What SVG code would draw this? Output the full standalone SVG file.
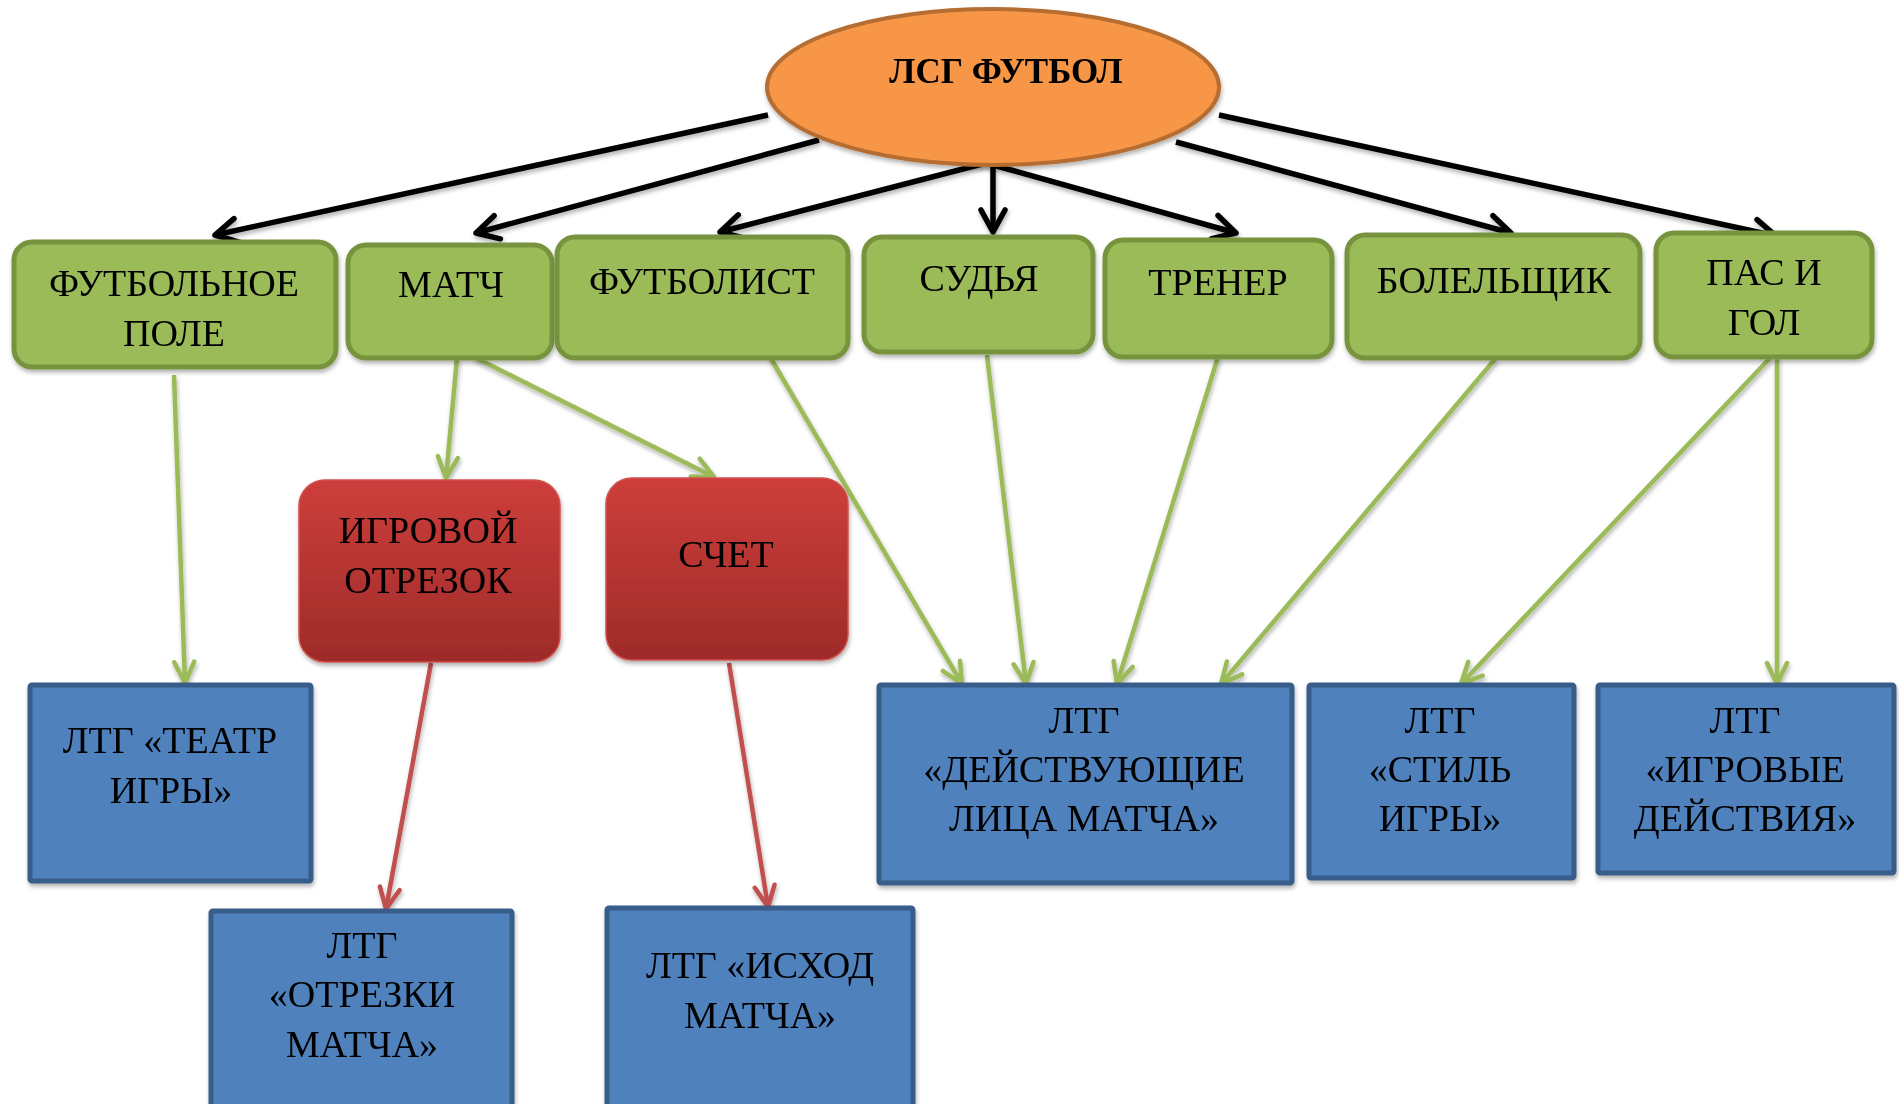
<svg xmlns="http://www.w3.org/2000/svg" width="1899" height="1104" viewBox="0 0 1899 1104">
<style>
  text { font-family: "Liberation Serif", "Times New Roman", serif; font-size: 38px; fill: #000; text-anchor: middle; }
  .title { font-weight: bold; font-size: 35px; }
  .green { fill: #9bbb59; stroke: #77933c; stroke-width: 5; }
  .red { fill: url(#redGrad); stroke: #d0514e; stroke-width: 1.5; }
  .blue { fill: #4f81bd; stroke: #385d8a; stroke-width: 5; }
  .ell { fill: #f79646; stroke: #b66d31; stroke-width: 4; }
  .cb { stroke: #000; stroke-width: 5.5; fill: none; marker-end: url(#ab); }
  .cg { stroke: #9bbb59; stroke-width: 4.5; fill: none; marker-end: url(#ag); }
  .cr { stroke: #c0504d; stroke-width: 4.5; fill: none; marker-end: url(#ar); }
</style>
<defs>
  <linearGradient id="redGrad" x1="0" y1="0" x2="0" y2="1">
    <stop offset="0" stop-color="#cd3e3b"/>
    <stop offset="1" stop-color="#9e2b29"/>
  </linearGradient>
  <filter id="sh" x="-10%" y="-10%" width="120%" height="130%">
    <feDropShadow dx="1" dy="3" stdDeviation="2" flood-color="#000" flood-opacity="0.3"/>
  </filter>
  <marker id="ab" markerUnits="userSpaceOnUse" viewBox="-28 -17 32 34" refX="0" refY="0" markerWidth="32" markerHeight="34" orient="auto">
    <path d="M-22,-12 L0,0 L-22,12" fill="none" stroke="#000" stroke-width="5.5" stroke-linecap="round" stroke-linejoin="round"/>
  </marker>
  <marker id="ag" markerUnits="userSpaceOnUse" viewBox="-26 -16 30 32" refX="0" refY="0" markerWidth="30" markerHeight="32" orient="auto">
    <path d="M-21,-10 L0,0 L-21,10" fill="none" stroke="#9bbb59" stroke-width="4.5" stroke-linecap="round" stroke-linejoin="round"/>
  </marker>
  <marker id="ar" markerUnits="userSpaceOnUse" viewBox="-26 -16 30 32" refX="0" refY="0" markerWidth="30" markerHeight="32" orient="auto">
    <path d="M-21,-10 L0,0 L-21,10" fill="none" stroke="#c0504d" stroke-width="4.5" stroke-linecap="round" stroke-linejoin="round"/>
  </marker>
</defs>
<rect width="1899" height="1104" fill="#fff"/>

<g id="connectors" filter="url(#sh)">
  <line class="cb" x1="768" y1="115" x2="215" y2="235"/>
  <line class="cb" x1="819" y1="140" x2="476" y2="233"/>
  <line class="cb" x1="986" y1="163" x2="720" y2="232"/>
  <line class="cb" x1="993" y1="165" x2="993" y2="232"/>
  <line class="cb" x1="986" y1="163" x2="1236" y2="233"/>
  <line class="cb" x1="1176" y1="142" x2="1511" y2="233"/>
  <line class="cb" x1="1219" y1="115" x2="1776" y2="236"/>

  <line class="cg" x1="174" y1="375" x2="185" y2="683"/>
  <line class="cg" x1="457" y1="358" x2="446" y2="478"/>
  <line class="cg" x1="474" y1="357" x2="714" y2="477"/>
  <line class="cg" x1="770" y1="357" x2="962" y2="684"/>
  <line class="cg" x1="987" y1="355" x2="1026" y2="684"/>
  <line class="cg" x1="1218" y1="357" x2="1117" y2="684"/>
  <line class="cg" x1="1496" y1="358" x2="1221" y2="684"/>
  <line class="cg" x1="1771" y1="357" x2="1461" y2="684"/>
  <line class="cg" x1="1777" y1="357" x2="1777" y2="684"/>

  <line class="cr" x1="431" y1="663" x2="386" y2="909"/>
  <line class="cr" x1="729" y1="663" x2="768" y2="907"/>
</g>

<g id="root" filter="url(#sh)">
  <ellipse class="ell" cx="993" cy="87" rx="226" ry="78"/>
  <text class="title" x="1006" y="83">ЛСГ ФУТБОЛ</text>
</g>

<g id="n-pole" filter="url(#sh)">
  <rect class="green" x="14" y="242" width="322" height="125" rx="18"/>
  <text x="174" y="296">ФУТБОЛЬНОЕ</text>
  <text x="174" y="346">ПОЛЕ</text>
</g>
<g id="n-match" filter="url(#sh)">
  <rect class="green" x="348" y="245" width="204" height="113" rx="18"/>
  <text x="451" y="297">МАТЧ</text>
</g>
<g id="n-player" filter="url(#sh)">
  <rect class="green" x="557" y="237" width="291" height="121" rx="18"/>
  <text x="702" y="294">ФУТБОЛИСТ</text>
</g>
<g id="n-referee" filter="url(#sh)">
  <rect class="green" x="864" y="237" width="229" height="115" rx="18"/>
  <text x="979" y="291">СУДЬЯ</text>
</g>
<g id="n-coach" filter="url(#sh)">
  <rect class="green" x="1105" y="240" width="227" height="117" rx="18"/>
  <text x="1218" y="295">ТРЕНЕР</text>
</g>
<g id="n-fan" filter="url(#sh)">
  <rect class="green" x="1347" y="235" width="293" height="123" rx="18"/>
  <text x="1494" y="293">БОЛЕЛЬЩИК</text>
</g>
<g id="n-pass" filter="url(#sh)">
  <rect class="green" x="1656" y="233" width="216" height="124" rx="18"/>
  <text x="1764" y="285">ПАС И</text>
  <text x="1764" y="335">ГОЛ</text>
</g>

<g id="n-segment" filter="url(#sh)">
  <rect class="red" x="299" y="480" width="261" height="182" rx="26"/>
  <text x="428" y="543">ИГРОВОЙ</text>
  <text x="428" y="593">ОТРЕЗОК</text>
</g>
<g id="n-score" filter="url(#sh)">
  <rect class="red" x="606" y="478" width="242" height="182" rx="26"/>
  <text x="726" y="567">СЧЕТ</text>
</g>

<g id="b-theatre" filter="url(#sh)">
  <rect class="blue" x="30" y="685" width="281" height="196" rx="2"/>
  <text x="170" y="753">ЛТГ «ТЕАТР</text>
  <text x="171" y="803">ИГРЫ»</text>
</g>
<g id="b-segments" filter="url(#sh)">
  <rect class="blue" x="211" y="911" width="301" height="200" rx="2"/>
  <text x="362" y="958">ЛТГ</text>
  <text x="362" y="1007">«ОТРЕЗКИ</text>
  <text x="362" y="1057">МАТЧА»</text>
</g>
<g id="b-outcome" filter="url(#sh)">
  <rect class="blue" x="607" y="908" width="306" height="203" rx="2"/>
  <text x="760" y="978">ЛТГ «ИСХОД</text>
  <text x="760" y="1028">МАТЧА»</text>
</g>
<g id="b-persons" filter="url(#sh)">
  <rect class="blue" x="879" y="685" width="413" height="198" rx="2"/>
  <text x="1084" y="733">ЛТГ</text>
  <text x="1084" y="782">«ДЕЙСТВУЮЩИЕ</text>
  <text x="1084" y="831">ЛИЦА МАТЧА»</text>
</g>
<g id="b-style" filter="url(#sh)">
  <rect class="blue" x="1309" y="685" width="265" height="193" rx="2"/>
  <text x="1440" y="733">ЛТГ</text>
  <text x="1440" y="782">«СТИЛЬ</text>
  <text x="1440" y="831">ИГРЫ»</text>
</g>
<g id="b-actions" filter="url(#sh)">
  <rect class="blue" x="1598" y="685" width="296" height="188" rx="2"/>
  <text x="1745" y="733">ЛТГ</text>
  <text x="1745" y="782">«ИГРОВЫЕ</text>
  <text x="1745" y="831">ДЕЙСТВИЯ»</text>
</g>
</svg>
